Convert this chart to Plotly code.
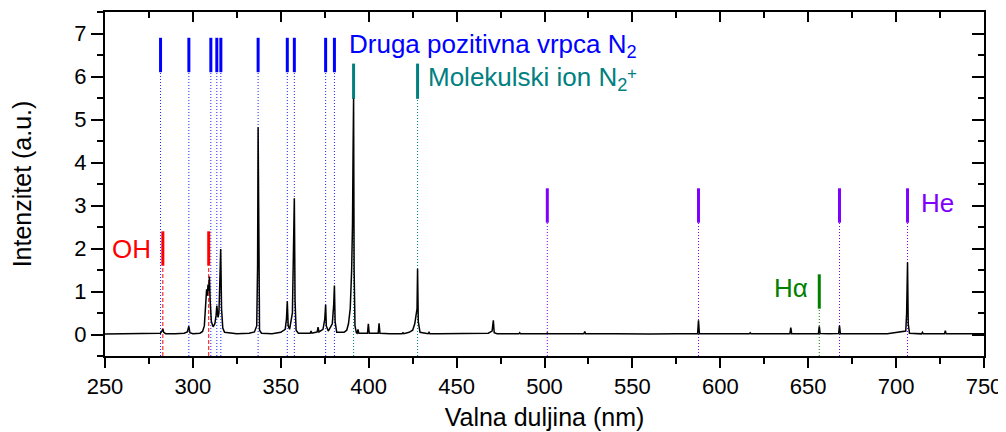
import plotly.graph_objects as go

# ---- spectrum data ----
wavelength = [250, 260, 270, 278, 281.5, 282.4, 282.9, 283.4, 284.5, 290, 295, 296.8, 297.7, 298.3,
              300, 304, 305.5, 306.5, 307.3, 307.8, 308.2, 308.6, 309.0, 309.4, 309.8, 310.5, 311.5,
              312.5, 313.2, 313.6, 314.3, 314.8, 315.3, 315.8, 316.3, 317.0, 318.0, 325, 332, 335,
              336.3, 336.8, 337.1, 337.4, 337.9, 339, 345, 350, 352.5, 353.2, 353.7, 354.2, 355,
              356.6, 357.2, 357.7, 358.1, 358.7, 360, 364, 366.7, 367.2, 367.7, 370, 370.7, 371.2, 371.7,
              374, 375.0, 375.5, 375.9, 377, 379.3, 380.1, 380.5, 380.9, 381.8, 386, 387.5, 388.5,
              389.5, 390.3, 390.8, 391.1, 391.4, 391.7, 392.2, 393, 393.4, 393.9, 394.4, 397, 399.3,
              399.8, 400.3, 403, 405.4, 405.9, 406.4, 412, 419.0, 419.5, 420.0, 423, 425, 426.2, 426.9,
              427.5, 427.8, 428.2, 429.2, 433.8, 434.3, 434.8, 440, 450, 460, 468, 470.2, 470.9, 471.4,
              473, 485.4, 485.9, 486.4, 495, 501.1, 501.6, 502.1, 510, 522.4, 522.9, 523.4, 540, 560,
              575, 587.1, 587.6, 588.1, 600, 616.5, 617, 617.5, 630, 639.6, 640.1, 640.6, 650, 655.8,
              656.3, 656.8, 662, 667.3, 667.8, 668.3, 680, 695, 705.5, 706.0, 706.5, 706.9, 707.6,
              714.5, 715, 715.5, 727.5, 728, 728.5, 740, 750]
intensity = [0.01, 0.015, 0.01, 0.02, 0.03, 0.08, 0.13, 0.05, 0.02, 0.015, 0.03, 0.06, 0.19, 0.04,
             0.02, 0.03, 0.07, 0.2, 0.6, 1.05, 0.9, 1.16, 1.0, 1.35, 0.8, 0.3, 0.18,
             0.25, 0.45, 0.67, 0.4, 0.5, 1.2, 1.99, 0.6, 0.15, 0.05, 0.02, 0.03, 0.06,
             0.2, 1.6, 4.82, 1.2, 0.1, 0.03, 0.02, 0.05, 0.12, 0.35, 0.77, 0.2, 0.12,
             0.5, 1.6, 3.17, 0.8, 0.1, 0.03, 0.03, 0.03, 0.08, 0.03, 0.05, 0.06, 0.17, 0.06,
             0.12, 0.35, 0.69, 0.2, 0.08, 0.25, 0.7, 1.14, 0.3, 0.05, 0.05, 0.1, 0.25,
             0.6, 1.5, 2.6, 4.2, 5.49, 1.5, 0.2, 0.04, 0.03, 0.12, 0.03, 0.03, 0.03,
             0.25, 0.03, 0.03, 0.03, 0.26, 0.03, 0.02, 0.02, 0.04, 0.02, 0.05, 0.1, 0.25, 0.45,
             0.6, 1.53, 0.3, 0.05, 0.02, 0.05, 0.02, 0.015, 0.02, 0.015, 0.03, 0.08, 0.33, 0.04,
             0.02, 0.015, 0.04, 0.015, 0.015, 0.015, 0.035, 0.015, 0.015, 0.015, 0.07, 0.015, 0.02, 0.01,
             0.02, 0.02, 0.33, 0.02, 0.015, 0.015, 0.04, 0.015, 0.015, 0.02, 0.16, 0.02, 0.02, 0.02,
             0.19, 0.02, 0.015, 0.02, 0.21, 0.02, 0.015, 0.015, 0.08, 0.5, 1.68, 0.25, 0.03,
             0.015, 0.05, 0.015, 0.015, 0.09, 0.015, 0.01, 0.015]

# ---- line identifications (nm) ----
n2_lines = [281.6, 297.7, 310.2, 313.6, 315.9, 337.1, 353.7, 357.7, 375.5, 380.5]
n2plus_lines = [391.4, 427.8]
oh_lines = [282.9, 309.0]
he_lines = [501.6, 587.6, 667.8, 706.5]
halpha_lines = [656.3]

x_ticks = [250, 300, 350, 400, 450, 500, 550, 600, 650, 700, 750]
y_ticks = [0, 1, 2, 3, 4, 5, 6, 7]

FONT = "Arial, Liberation Sans, sans-serif"
YMIN, YMAX = -0.5, 7.5

fig = go.Figure()


def add_group(lines, lo, hi, color, dash, dashcolor):
    dx, dy, sx, sy = [], [], [], []
    for w in lines:
        dx += [w, w, None]
        dy += [YMIN, lo, None]
        sx += [w, w, None]
        sy += [lo, hi, None]
    fig.add_trace(go.Scatter(x=dx, y=dy, mode="lines", showlegend=False, hoverinfo="skip",
                             line=dict(color=dashcolor, width=1, dash=dash)))
    fig.add_trace(go.Scatter(x=sx, y=sy, mode="lines", showlegend=False, hoverinfo="skip",
                             line=dict(color=color, width=3)))


add_group(n2_lines, 6.1, 6.9, "#0000ff", "1px,2px", "#2020ff")
add_group(n2plus_lines, 5.48, 6.3, "#008080", "1px,2px", "#008080")
add_group(oh_lines, 1.6, 2.4, "#ff0000", "4px,2px", "#ff0000")
add_group(he_lines, 2.6, 3.4, "#8000ff", "1px,2px", "#8000ff")
add_group(halpha_lines, 0.6, 1.4, "#008000", "1px,2px", "#008000")

fig.add_trace(go.Scatter(x=wavelength, y=intensity, mode="lines", showlegend=False,
                         line=dict(color="black", width=1.5)))

# dummy trace for mirror axes (inside ticks on top/right)
fig.add_trace(go.Scatter(x=[250], y=[0], xaxis="x2", yaxis="y2", mode="markers",
                         marker=dict(opacity=0), showlegend=False, hoverinfo="skip"))

ann_font = dict(family=FONT, size=26)
annotations = [
    dict(x=388.1, y=6.72, text="Druga pozitivna vrpca N<sub>2</sub>", xanchor="left",
         font=dict(ann_font, color="#0000ff")),
    dict(x=433.0, y=5.95, text="Molekulski ion N<sub>2</sub>", xanchor="left",
         font=dict(ann_font, color="#008080")),
    dict(x=550.0, y=6.06, text="+", xanchor="center",
         font=dict(family=FONT, size=17, color="#008080")),
    dict(x=276.6, y=2.0, text="OH", xanchor="right", font=dict(ann_font, color="#ff0000")),
    dict(x=713.4, y=3.05, text="He", xanchor="left", font=dict(ann_font, color="#8000ff")),
    dict(x=650.2, y=1.07, text="H\u03b1", xanchor="right", font=dict(ann_font, color="#008000")),
]
for a in annotations:
    a.update(xref="x", yref="y", showarrow=False, yanchor="middle", borderpad=0)

# the page body adds an 8px offset, so margins are shifted to compensate
fig.update_layout(
    width=1006, height=432,
    margin=dict(l=97, r=30, t=4, b=84),
    paper_bgcolor="white", plot_bgcolor="white",
    font=dict(family=FONT, size=22, color="black"),
    annotations=annotations,
    xaxis=dict(range=[250, 750], tickvals=x_ticks, ticks="outside", ticklen=10, tickwidth=2,
               tickcolor="black", showline=True, linecolor="black", linewidth=2, mirror=True,
               showgrid=False, zeroline=False, automargin=False,
               minor=dict(ticks="outside", dtick=25, ticklen=6, tickwidth=2, tickcolor="black"),
               title=dict(text="Valna duljina (nm)", font=dict(size=25), standoff=10),
               tickfont=dict(size=22)),
    yaxis=dict(range=[YMIN, YMAX], tickvals=y_ticks, ticks="outside", ticklen=12, tickwidth=2,
               tickcolor="black", showline=True, linecolor="black", linewidth=2, mirror=True,
               showgrid=False, zeroline=False, automargin=False,
               minor=dict(ticks="outside", dtick=0.5, ticklen=6, tickwidth=2, tickcolor="black"),
               title=dict(text="Intenzitet (a.u.)", font=dict(size=25), standoff=37),
               tickfont=dict(size=22)),
    xaxis2=dict(overlaying="x", side="top", range=[250, 750], tickvals=x_ticks, ticks="inside",
                ticklen=10, tickwidth=2, tickcolor="black", showticklabels=False, showgrid=False,
                zeroline=False, anchor="y2", automargin=False,
                minor=dict(ticks="inside", dtick=25, ticklen=6, tickwidth=2, tickcolor="black")),
    yaxis2=dict(overlaying="y", side="right", range=[YMIN, YMAX], tickvals=y_ticks, ticks="inside",
                ticklen=12, tickwidth=2, tickcolor="black", showticklabels=False, showgrid=False,
                zeroline=False, anchor="x2", automargin=False,
                minor=dict(ticks="inside", dtick=0.5, ticklen=6, tickwidth=2, tickcolor="black")),
)

fig.write_html("out.html")
